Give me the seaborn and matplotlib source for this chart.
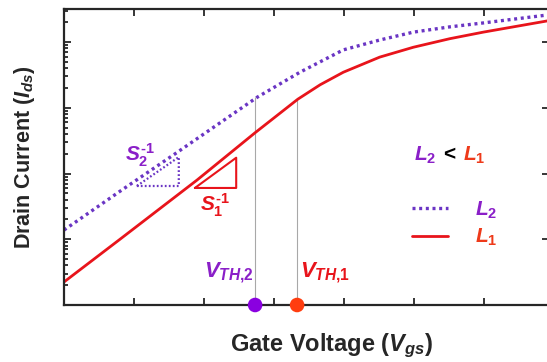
import numpy as np
import pandas as pd
import matplotlib
matplotlib.use("Agg")
import matplotlib.pyplot as plt
from matplotlib.ticker import LogLocator, NullFormatter, NullLocator
import seaborn as sns

# curve data: gate voltage (tick units) vs log10 of drain current
vgs_l1 = [0, 0.8, 1.9, 2.73, 3.34, 3.66, 3.99, 4.51, 4.99, 5.51, 5.99, 6.9]
log_ids_l1 = [0.35, 1.00, 1.90, 2.62, 3.13, 3.35, 3.54, 3.77, 3.92, 4.05, 4.15, 4.32]
vgs_l2 = [0, 0.8, 1.56, 2.76, 3.37, 3.99, 4.51, 4.99, 5.51, 5.99, 6.9]
log_ids_l2 = [1.14, 1.73, 2.28, 3.16, 3.54, 3.88, 4.03, 4.15, 4.23, 4.29, 4.41]

# threshold voltages and where their guide lines meet the curves
vth = [2.73, 3.33]
vth_top = [3.16, 3.13]

# subthreshold slope triangles
tri_s2_x = [1.04, 1.64, 1.64, 1.04]
tri_s2_y = [1.81, 1.81, 2.25, 1.81]
tri_s1_x = [1.87, 2.46, 2.46, 1.87]
tri_s1_y = [1.78, 1.78, 2.24, 1.78]

purple_line = "#6a35c4"
purple_txt = "#8a1fc8"
red_line = "#e8141b"
red_txt = "#ee3a1a"

sns.set_style("ticks")
plt.rcParams["font.family"] = ["Liberation Sans", "DejaVu Sans"]
plt.rcParams["font.weight"] = "bold"
plt.rcParams["mathtext.fontset"] = "custom"
plt.rcParams["mathtext.rm"] = "Liberation Sans:bold"
plt.rcParams["mathtext.it"] = "Liberation Sans:bold:italic"
plt.rcParams["mathtext.bf"] = "Liberation Sans:bold"

fig = plt.figure(figsize=(5.47, 3.62), dpi=100)
ax = fig.add_axes([64 / 547, 57 / 362, 485 / 547, 296 / 362])

df1 = pd.DataFrame({"vgs": vgs_l1, "ids": 10 ** np.array(log_ids_l1)})
df2 = pd.DataFrame({"vgs": vgs_l2, "ids": 10 ** np.array(log_ids_l2)})

sns.lineplot(data=df2, x="vgs", y="ids", ax=ax, color=purple_line, lw=2.4,
             linestyle=(0, (0.9, 1.1)), label="$L_2$")
sns.lineplot(data=df1, x="vgs", y="ids", ax=ax, color=red_line, lw=2.0,
             label="$L_1$")

ax.set_yscale("log")
ax.set_xlim(0, 485 / 70)
ax.set_ylim(1, 10 ** (296 / 65.75))

# guide lines for threshold voltages
ax.vlines(vth, 1, 10 ** np.array(vth_top), color="#a8a8a8", lw=0.8, zorder=1)
sns.scatterplot(x=vth, y=[1, 1], hue=["VTH2", "VTH1"],
                palette=["#8a00e0", "#ff3d0f"], s=110, ax=ax, legend=False,
                edgecolor="none", clip_on=False, zorder=5)

# slope triangles
ax.plot(tri_s2_x, 10 ** np.array(tri_s2_y), color=purple_line, lw=1.6,
        linestyle=(0, (0.8, 1.0)))
ax.plot(tri_s1_x, 10 ** np.array(tri_s1_y), color=red_line, lw=1.5)

ax.text(0.87, 10 ** 2.28, r"$S_2^{\text{-1}}$", color=purple_txt, fontsize=15,
        ha="left", va="center")
ax.text(1.95, 10 ** 1.52, r"$S_1^{\text{-1}}$", color=red_line, fontsize=15,
        ha="left", va="center")
ax.text(2.0, 10 ** 0.42, "$V_{TH{,}2}$", color=purple_txt, fontsize=16,
        ha="left", va="baseline")
ax.text(3.37, 10 ** 0.42, "$V_{TH{,}1}$", color=red_line, fontsize=16,
        ha="left", va="baseline")

ax.text(5.0, 10 ** 2.2, "$L_2$", color=purple_txt, fontsize=15, ha="left", va="baseline")
ax.text(5.42, 10 ** 2.2, "<", color="black", fontsize=15, ha="left", va="baseline")
ax.text(5.7, 10 ** 2.2, "$L_1$", color=red_txt, fontsize=15, ha="left", va="baseline")

leg = ax.legend(loc="center left", bbox_to_anchor=((404 - 64) / 485, (305 - 224) / 296),
                frameon=False, fontsize=15, handlelength=1.7, handletextpad=1.3,
                labelspacing=0.3, borderaxespad=0)
for txt, col in zip(leg.get_texts(), [purple_txt, red_txt]):
    txt.set_color(col)

ax.set_xlabel("Gate Voltage ($V_{gs}$)", fontsize=17, fontweight="bold")
ax.set_ylabel("Drain Current ($I_{ds}$)", fontsize=15.5, fontweight="bold")
ax.xaxis.set_label_coords((332 - 64) / 485, -(332 - 305) / 296)
ax.yaxis.set_label_coords(-(64 - 37) / 485, 0.5)

ax.xaxis.set_major_locator(plt.MultipleLocator(1))
ax.yaxis.set_major_locator(LogLocator(base=10, numticks=10))
ax.yaxis.set_minor_locator(LogLocator(base=10, subs=np.arange(2, 10), numticks=10))
ax.xaxis.set_minor_locator(NullLocator())
ax.tick_params(which="both", direction="in", top=True, right=True,
               labelbottom=False, labelleft=False, width=1.3)
ax.tick_params(which="major", length=5)
ax.tick_params(which="minor", length=3, right=False)
ax.yaxis.set_minor_formatter(NullFormatter())
for sp in ax.spines.values():
    sp.set_linewidth(1.6)

fig.savefig("out.png", dpi=100)
